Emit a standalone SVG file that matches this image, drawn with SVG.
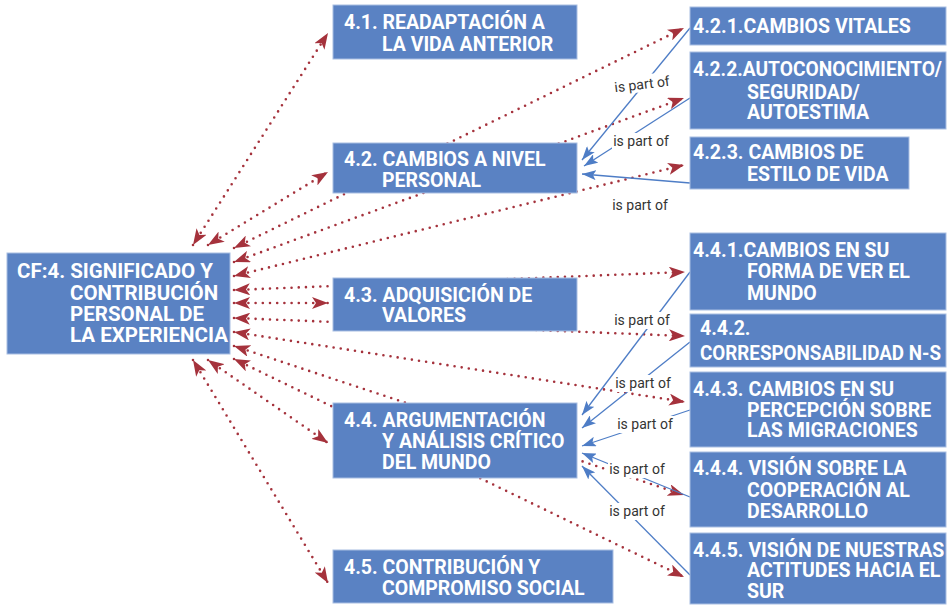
<svg xmlns="http://www.w3.org/2000/svg" width="947" height="605" viewBox="0 0 947 605">
<style>
.box{fill:#5A82C3;stroke:#A8BEE2;stroke-width:1}
.t{font-family:Roboto,"Liberation Sans",sans-serif;font-weight:bold;font-size:19.5px;fill:#FFFFFF}
.tc{font-size:20.5px}
.red{fill:none;stroke:#A5323C;stroke-width:2.6;stroke-linecap:round;stroke-dasharray:0 7.2;marker-start:url(#ra);marker-end:url(#ra)}
.blue{fill:none;stroke:#4E7DC6;stroke-width:1.3;marker-end:url(#ba)}
.lbl{font-family:Roboto,"Liberation Sans",sans-serif;font-size:14px;fill:#333333;text-anchor:middle}
.lb{fill:#FFFFFF}
</style>
<defs>
<marker id="ra" viewBox="0 0 16 12" refX="16" refY="6" markerWidth="16" markerHeight="12" markerUnits="userSpaceOnUse" orient="auto-start-reverse">
<path d="M0,0 L16,6 L0,12 L4,6 Z" fill="#A5323C"/>
</marker>
<marker id="ba" viewBox="0 0 14 10" refX="14" refY="5" markerWidth="14" markerHeight="10" markerUnits="userSpaceOnUse" orient="auto">
<path d="M0,0 L14,5 L0,10 L3,5 Z" fill="#4E7DC6"/>
</marker>
</defs>
<g id="connectors">
<line class="red" x1="193" y1="245" x2="328" y2="33"/>
<line class="red" x1="208" y1="245" x2="328" y2="172"/>
<line class="red" x1="234" y1="248" x2="684" y2="28"/>
<line class="red" x1="234" y1="262" x2="684" y2="98"/>
<line class="red" x1="234" y1="276" x2="684" y2="165"/>
<line class="red" x1="234" y1="290" x2="685" y2="272"/>
<line class="red" x1="234" y1="303" x2="328" y2="303"/>
<line class="red" x1="234" y1="318" x2="685" y2="336"/>
<line class="red" x1="234" y1="332" x2="685" y2="402"/>
<line class="red" x1="234" y1="346" x2="684" y2="495"/>
<line class="red" x1="234" y1="359" x2="684" y2="577"/>
<line class="red" x1="208" y1="360" x2="328" y2="443"/>
<line class="red" x1="193" y1="360" x2="328" y2="583"/>
<line class="blue" x1="690" y1="28" x2="582" y2="160"/>
<line class="blue" x1="690" y1="98" x2="584" y2="166"/>
<line class="blue" x1="690" y1="183" x2="582" y2="174"/>
<line class="blue" x1="690" y1="272" x2="582" y2="415"/>
<line class="blue" x1="690" y1="342" x2="582" y2="428"/>
<line class="blue" x1="690" y1="410" x2="582" y2="446"/>
<line class="blue" x1="690" y1="497" x2="582" y2="453"/>
<line class="blue" x1="690" y1="575" x2="582" y2="466"/>
<g transform="rotate(-7 642 84)"><rect class="lb" x="613" y="75" width="58" height="17"/><text class="lbl" x="642" y="89">is part of</text></g>
<rect class="lb" x="612" y="133" width="58" height="17"/><text class="lbl" x="641" y="146">is part of</text>
<rect class="lb" x="611" y="197" width="58" height="17"/><text class="lbl" x="640" y="210">is part of</text>
<rect class="lb" x="613" y="312" width="58" height="17"/><text class="lbl" x="642" y="325">is part of</text>
<rect class="lb" x="614" y="375" width="58" height="17"/><text class="lbl" x="643" y="388">is part of</text>
<rect class="lb" x="616" y="416" width="58" height="17"/><text class="lbl" x="645" y="429">is part of</text>
<rect class="lb" x="608" y="461" width="58" height="17"/><text class="lbl" x="637" y="474">is part of</text>
<rect class="lb" x="608" y="503" width="58" height="17"/><text class="lbl" x="637" y="516">is part of</text>
</g>
<g id="cf4">
<rect class="box" x="7" y="253" width="223" height="101"/>
<text class="t tc" x="17" y="278">CF:4. SIGNIFICADO Y</text>
<text class="t tc" x="70" y="300">CONTRIBUCIÓN</text>
<text class="t tc" x="70" y="321">PERSONAL DE</text>
<text class="t tc" x="70" y="342">LA EXPERIENCIA</text>
</g>
<g id="n41">
<rect class="box" x="333" y="5" width="244" height="54"/>
<text class="t" x="344" y="29">4.1. READAPTACIÓN A</text>
<text class="t" x="382" y="51">LA VIDA ANTERIOR</text>
</g>
<g id="n42">
<rect class="box" x="333" y="143" width="244" height="50"/>
<text class="t" x="344" y="166">4.2. CAMBIOS A NIVEL</text>
<text class="t" x="382" y="187">PERSONAL</text>
</g>
<g id="n43">
<rect class="box" x="333" y="278" width="244" height="53"/>
<text class="t" x="344" y="302">4.3. ADQUISICIÓN DE</text>
<text class="t" x="382" y="322">VALORES</text>
</g>
<g id="n44">
<rect class="box" x="333" y="403" width="244" height="75"/>
<text class="t" x="344" y="427">4.4. ARGUMENTACIÓN</text>
<text class="t" x="382" y="448">Y ANÁLISIS CRÍTICO</text>
<text class="t" x="382" y="469">DEL MUNDO</text>
</g>
<g id="n45">
<rect class="box" x="333" y="550" width="280" height="53"/>
<text class="t" x="344" y="574">4.5. CONTRIBUCIÓN Y</text>
<text class="t" x="382" y="595">COMPROMISO SOCIAL</text>
</g>
<g id="n421">
<rect class="box" x="690" y="7" width="256" height="38"/>
<text class="t" x="693" y="33">4.2.1.CAMBIOS VITALES</text>
</g>
<g id="n422">
<rect class="box" x="690" y="52" width="256" height="77"/>
<text class="t" x="693" y="76" textLength="249" lengthAdjust="spacingAndGlyphs">4.2.2.AUTOCONOCIMIENTO/</text>
<text class="t" x="747" y="99">SEGURIDAD/</text>
<text class="t" x="747" y="119">AUTOESTIMA</text>
</g>
<g id="n423">
<rect class="box" x="690" y="137" width="219" height="52"/>
<text class="t" x="693" y="159">4.2.3. CAMBIOS DE</text>
<text class="t" x="747" y="181">ESTILO DE VIDA</text>
</g>
<g id="n441">
<rect class="box" x="690" y="233" width="256" height="77"/>
<text class="t" x="693" y="257">4.4.1.CAMBIOS EN SU</text>
<text class="t" x="747" y="278">FORMA DE VER EL</text>
<text class="t" x="747" y="300">MUNDO</text>
</g>
<g id="n442">
<rect class="box" x="690" y="314" width="256" height="53"/>
<text class="t" x="700" y="335">4.4.2.</text>
<text class="t" x="700" y="360" textLength="241" lengthAdjust="spacingAndGlyphs">CORRESPONSABILIDAD N-S</text>
</g>
<g id="n443">
<rect class="box" x="690" y="372" width="256" height="75"/>
<text class="t" x="693" y="396">4.4.3. CAMBIOS EN SU</text>
<text class="t" x="747" y="417">PERCEPCIÓN SOBRE</text>
<text class="t" x="747" y="437">LAS MIGRACIONES</text>
</g>
<g id="n444">
<rect class="box" x="690" y="452" width="256" height="75"/>
<text class="t" x="693" y="475">4.4.4. VISIÓN SOBRE LA</text>
<text class="t" x="747" y="497">COOPERACIÓN AL</text>
<text class="t" x="747" y="518">DESARROLLO</text>
</g>
<g id="n445">
<rect class="box" x="690" y="533" width="256" height="71"/>
<text class="t" x="693" y="557">4.4.5. VISIÓN DE NUESTRAS</text>
<text class="t" x="747" y="577">ACTITUDES HACIA EL</text>
<text class="t" x="747" y="598">SUR</text>
</g>
</svg>
